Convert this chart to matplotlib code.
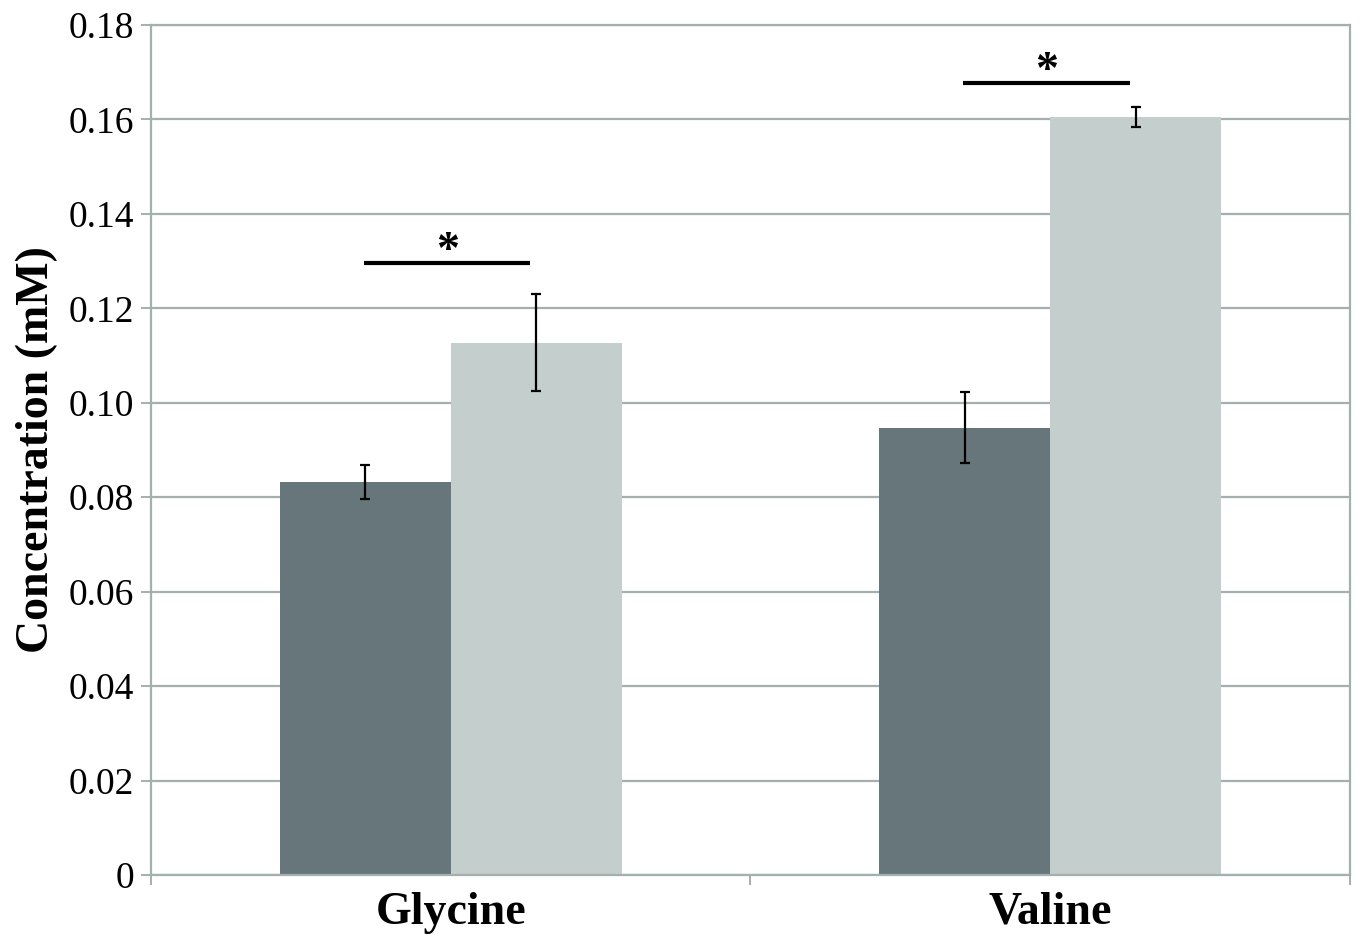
import numpy as np
import matplotlib.pyplot as plt
from matplotlib.ticker import FixedLocator

# amino acid concentrations (mM), mean and error per group
amino_acids = ["Glycine", "Valine"]
group_a = [0.0832, 0.0947]
group_a_err = [0.0036, 0.0075]
group_b = [0.1127, 0.1605]
group_b_err = [0.0103, 0.0021]

# significance bars: height and marker for each amino acid
sig_height = [0.1296, 0.1677]
sig_marks = ["*", "*"]

y_ticks = [0, 0.02, 0.04, 0.06, 0.08, 0.10, 0.12, 0.14, 0.16, 0.18]
y_tick_labels = ["0", "0.02", "0.04", "0.06", "0.08", "0.10", "0.12",
                 "0.14", "0.16", "0.18"]

dark = "#66767a"
light = "#c3cecd"
grid_col = "#a3b0ae"

plt.rcParams['font.family'] = ['Liberation Serif', 'DejaVu Serif']

fig = plt.figure(figsize=(13.6, 9.44), dpi=100)
ax = fig.add_axes([0.111, 0.0731, 0.8815, 0.9004])

x = np.arange(len(amino_acids))
w = 0.285
err_kw = dict(ecolor="black", elinewidth=1.6, capsize=3.4, capthick=1.6)
ax.bar(x - w / 2, group_a, w, color=dark, yerr=group_a_err, error_kw=err_kw, zorder=2)
ax.bar(x + w / 2, group_b, w, color=light, yerr=group_b_err, error_kw=err_kw, zorder=2)

# significance lines with asterisks
for xi, h, m in zip(x, sig_height, sig_marks):
    ax.plot([xi - 0.145, xi + 0.133], [h, h], color="black", lw=3, zorder=3,
            solid_capstyle="butt")
    ax.annotate(m, xy=(xi - 0.005, h), xytext=(0, -7), textcoords="offset points",
                ha="center", va="bottom", fontsize=33, fontweight="bold")

ax.set_ylim(0, 0.18)
ax.set_xlim(-0.5, 1.5)
ax.yaxis.set_major_locator(FixedLocator(y_ticks))
ax.set_yticklabels(y_tick_labels)
ax.yaxis.grid(True, color=grid_col, lw=1.6, zorder=0)
ax.set_axisbelow(True)

ax.set_xticks(x)
ax.set_xticklabels(amino_acids, fontsize=33, fontweight="bold")
ax.set_xticks([-0.5, 0.5, 1.5], minor=True)
ax.tick_params(axis="x", which="major", length=0, pad=12)
ax.tick_params(axis="x", which="minor", length=7, width=1.4, color=grid_col, direction="out")
ax.tick_params(axis="y", length=7, width=1.4, color=grid_col, labelsize=27, pad=5)

for s in ax.spines.values():
    s.set_color(grid_col)
    s.set_linewidth(1.6)

ax.set_ylabel("Concentration (mM)", fontsize=33, fontweight="bold", labelpad=8)

fig.savefig("out.png", dpi=100, facecolor="white")
